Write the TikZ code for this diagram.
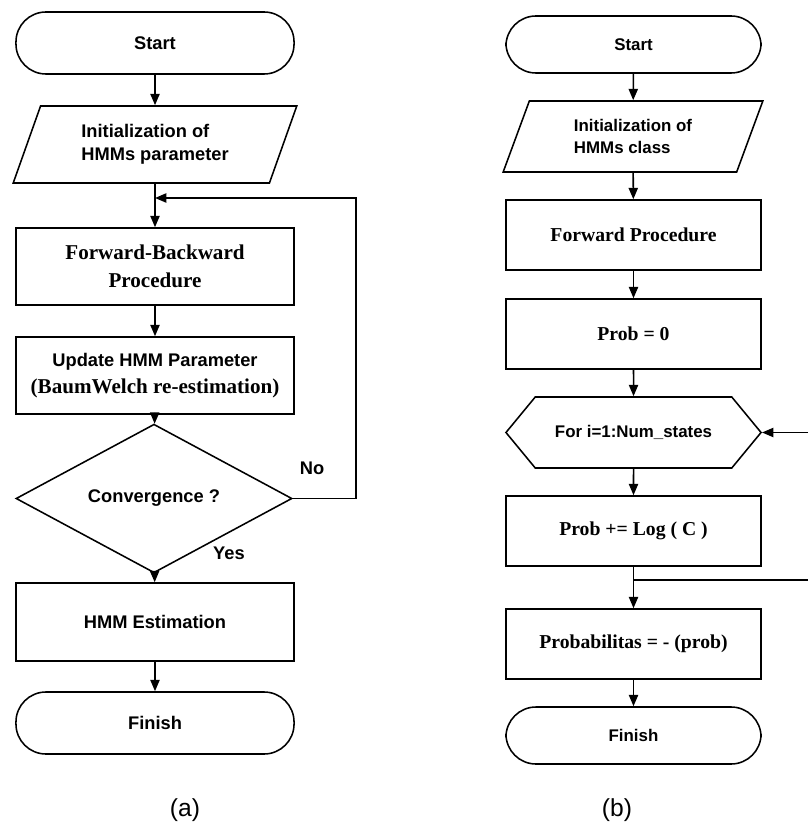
\documentclass[tikz,border=0pt]{standalone}
\usepackage{fontspec}
\setmainfont{Liberation Sans}
\newfontfamily\timesbf{Liberation Serif}
\usepackage{tikz}
\usetikzlibrary{shapes.geometric,shapes.symbols,arrows.meta}

\begin{document}
\begin{tikzpicture}[
		x=0.025cm, y=-0.025cm, line width=1.1pt,
		terminal/.style={rectangle, draw, rounded corners=0.75cm, inner sep=0pt},
		io/.style={trapezium, trapezium left angle=66, trapezium right angle=114, trapezium stretches=true, draw, inner sep=0pt, align=left},
		box/.style={rectangle, draw, inner sep=0pt, align=center},
		decision/.style={diamond, draw, inner sep=0pt},
		loophex/.style={signal, signal to=west and east, signal pointer angle=101, draw, inner sep=0pt},
		arrow/.style={-{Triangle[length=8pt, width=6.5pt]}},
		sansA/.style={font=\fontsize{13}{16}\selectfont\bfseries},
		serifA/.style={font=\timesbf\fontsize{15}{20}\selectfont\bfseries},
		sansB/.style={font=\fontsize{12}{15}\selectfont\bfseries},
		serifB/.style={font=\timesbf\fontsize{14}{17}\selectfont\bfseries},
		caption/.style={font=\fontsize{17.5}{20}\selectfont}
	]
		\useasboundingbox (0,0) rectangle (808,826);

		% Flowchart (a)
		\node[terminal, sansA, minimum width=6.95cm, minimum height=1.55cm] (startA) at (155,43) {Start};
		\node[io, sansA, minimum width=7.1cm, minimum height=1.925cm] (initA) at (155,144.5) {Initialization of\\HMMs parameter};
		\node[box, serifA, minimum width=6.95cm, minimum height=1.925cm] (fbA) at (155,266.5) {Forward-Backward\\Procedure};
		\node[box, sansA, minimum width=6.95cm, minimum height=1.925cm] (updA) at (155,375.5) {Update HMM Parameter\\[3pt]{\timesbf\fontsize{15}{20}\selectfont (BaumWelch re-estimation)}};
		\node[decision, sansA, minimum width=6.9cm, minimum height=2.725cm] (convA) at (154,498.5) {Convergence ?};
		\node[box, sansA, minimum width=6.95cm, minimum height=1.95cm] (estA) at (155,622) {HMM Estimation};
		\node[terminal, sansA, minimum width=6.95cm, minimum height=1.55cm] (finA) at (155,723) {Finish};

		\coordinate (backA) at (155,198);
		\coordinate (cornerA) at (356,198);

		% Arrows (a)
		\draw[arrow] (startA) -- (initA);
		\draw[arrow] (initA) -- (fbA);
		\draw[arrow] (fbA) -- (updA);
		\draw[arrow] (updA) -- (convA);
		\draw[arrow] (convA) -- (estA);
		\draw[arrow] (estA) -- (finA);
		\draw[arrow] (convA.east) -| (cornerA) -- (backA);

		\node[sansA] (noA) at (312,468) {No};
		\node[sansA] (yesA) at (229,553) {Yes};

		% Flowchart (b)
		\node[terminal, sansB, minimum width=6.375cm, minimum height=1.425cm] (startB) at (633.5,44.5) {Start};
		\node[io, sansB, minimum width=6.5cm, minimum height=1.775cm] (initB) at (633,136.5) {Initialization of\\HMMs class};
		\node[box, serifB, minimum width=6.375cm, minimum height=1.75cm] (fwdB) at (633.5,235) {Forward Procedure};
		\node[box, serifB, minimum width=6.375cm, minimum height=1.75cm] (zeroB) at (633.5,334) {Prob = 0};
		\node[loophex, sansB, minimum width=6.375cm, minimum height=1.775cm] (forB) at (633.5,432.5) {For i=1:Num\_states};
		\node[box, serifB, minimum width=6.375cm, minimum height=1.75cm] (logB) at (633.5,531) {Prob += Log ( C )};
		\node[box, serifB, minimum width=6.375cm, minimum height=1.75cm] (probB) at (633.5,644) {Probabilitas = - (prob)};
		\node[terminal, sansB, minimum width=6.375cm, minimum height=1.425cm] (finB) at (633.5,735.5) {Finish};

		\coordinate (splitB) at (634,580);
		\coordinate (outB) at (808,580);
		\coordinate (inB) at (808,432.5);

		% Arrows (b)
		\draw[arrow] (startB) -- (initB);
		\draw[arrow] (initB) -- (fwdB);
		\draw[arrow] (fwdB) -- (zeroB);
		\draw[arrow] (zeroB) -- (forB);
		\draw[arrow] (forB) -- (logB);
		\draw[arrow] (logB) -- (probB);
		\draw[arrow] (probB) -- (finB);
		\draw (splitB) -- (outB);
		\draw[arrow] (inB) -- (forB.east);

		% Labels
		\node[caption] (capA) at (185,810) {(a)};
		\node[caption] (capB) at (617,810) {(b)};
	\end{tikzpicture}
\end{document}
